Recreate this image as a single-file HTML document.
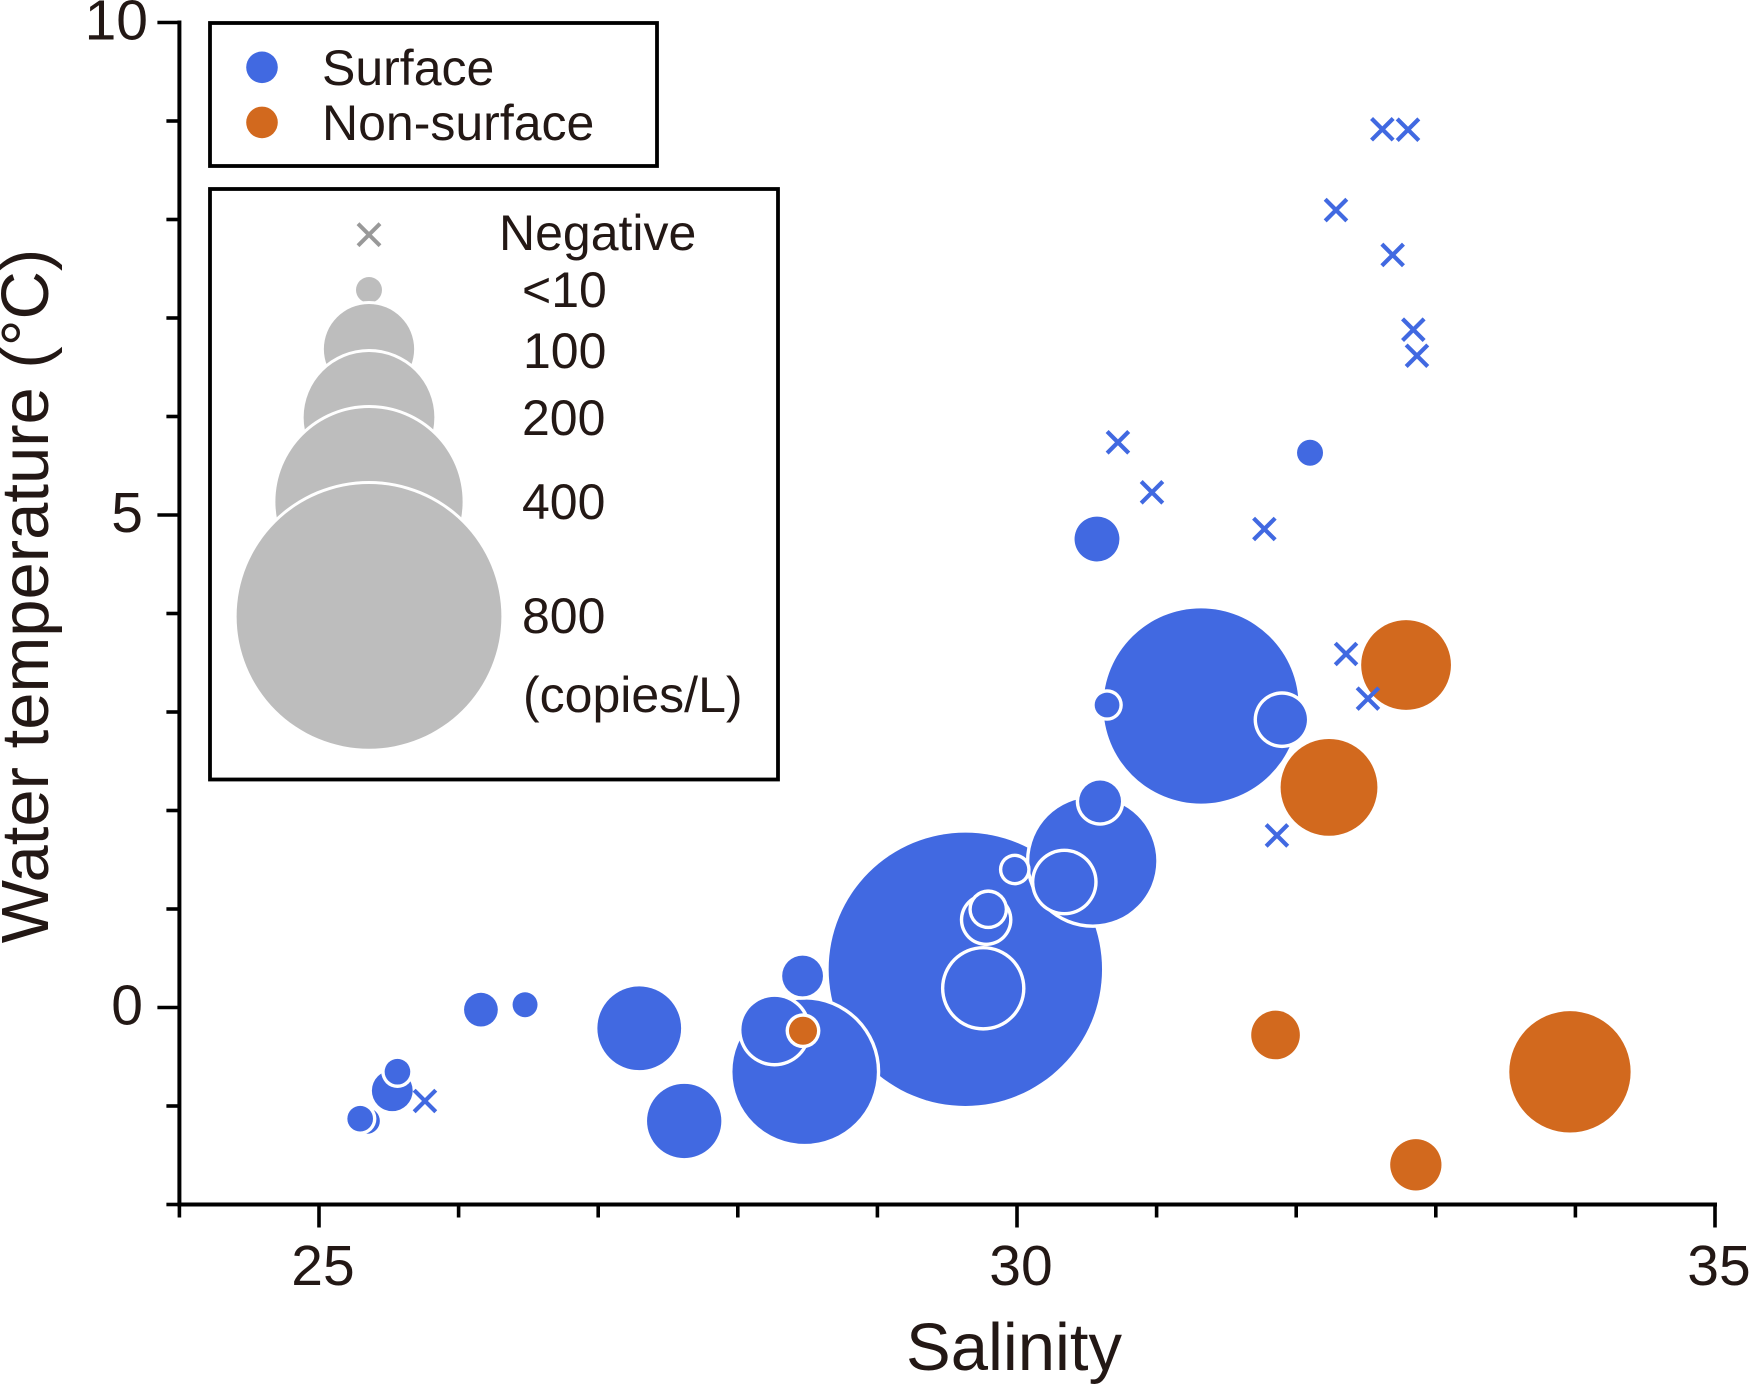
<!DOCTYPE html>
<html lang="en">
<head>
<meta charset="utf-8">
<title>Salinity vs water temperature</title>
<style>
html,body{margin:0;padding:0;background:#fff;}
svg{display:block;font-family:"Liberation Sans",Arial,sans-serif;fill:#231815;}
</style>
</head>
<body>
<svg id="chart" xmlns="http://www.w3.org/2000/svg" width="1750" height="1385" viewBox="0 0 1750 1385">
  <rect width="1750" height="1385" fill="#fff"/>
  <g id="marks"></g>
  <g id="axes"></g>
  <text x="1014" y="1370" font-size="67" text-anchor="middle">Salinity</text>
  <text transform="translate(48,596) rotate(-90)" font-size="67" text-anchor="middle">Water temperature (°C)</text>

  <g>
    <rect x="210" y="23" width="447" height="143" fill="#fff" stroke="#000" stroke-width="3.8"/>
    <circle cx="262" cy="67.3" r="15.8" fill="#4169E1"/>
    <circle cx="262" cy="122.4" r="15.8" fill="#D2691E"/>
    <text x="322" y="85" font-size="50">Surface</text>
    <text x="322" y="140" font-size="50">Non-surface</text>
  </g>

  <g id="size-legend">
    <rect x="210" y="189" width="568" height="590.5" fill="#fff" stroke="#000" stroke-width="3.8"/>
    <g stroke="#999" stroke-width="4" fill="none">
      <line x1="358" y1="223.7" x2="380" y2="245.7"/>
      <line x1="380" y1="223.7" x2="358" y2="245.7"/>
    </g>
    <g id="size-legend-bubbles"></g>
    <text x="499" y="250" font-size="50">Negative</text>
    <text x="522" y="307" font-size="50">&lt;10</text>
    <text x="523" y="368" font-size="50">100</text>
    <text x="522" y="435" font-size="50">200</text>
    <text x="522" y="519" font-size="50">400</text>
    <text x="522" y="633" font-size="50">800</text>
    <text x="523" y="712" font-size="50">(copies/L)</text>
  </g>
</svg>
<script>
var surfaceSalinity = [29.63,31.318,28.479,30.543,29.758,27.294,27.616,28.263,30.339,31.898,29.779,30.595,30.573,28.464,25.525,29.794,26.16,29.984,30.645,32.099,25.562,25.344,25.295,26.476];
var surfaceTemp = [0.388,3.061,-0.652,1.487,0.195,-0.211,-1.152,-0.228,1.274,2.922,0.891,2.092,4.756,0.32,-0.845,0.997,-0.022,1.401,3.071,5.632,-0.652,-1.152,-1.129,0.028];
var surfaceCopies = [853,435,238,184,69,80,63,50,41,28.5,24,20,23,19,19,12.4,13,7.1,7,7.7,7.5,7.5,7.5,7.1];

var deepSalinity = [33.961,32.235,32.787,32.857,31.852,28.467];
var deepTemp = [-0.653,2.235,3.477,-1.597,-0.279,-0.236];
var deepCopies = [168,107,92,30,27,9];

var negativeSalinity = [32.617,32.801,32.285,32.691,32.839,32.865,30.723,30.967,31.772,32.357,32.514,31.862,25.759];
var negativeTemp = [8.916,8.912,8.096,7.64,6.881,6.617,5.738,5.23,4.858,3.589,3.136,1.747,-0.949];

var xTicks = [24,25,26,27,28,29,30,31,32,33,34,35];
var xTickLabels = ['25','30','35'];
var yTicks = [-2,-1,0,1,2,3,4,5,6,7,8,9,10];
var yTickLabels = ['0','5','10'];
var legendCopies = [7.7,93,195,400,800];

var NS = 'http://www.w3.org/2000/svg';
function xPos(v){ return 319 + (v - 25) * 139.6; }
function yPos(v){ return 1007.5 - v * 98.5; }
function rad(c){ return 4.68 * Math.sqrt(c); }
function mk(tag, parent){ var e = document.createElementNS(NS, tag); parent.appendChild(e); return e; }

var marks = document.getElementById('marks');
var axes = document.getElementById('axes');

/* bubbles: large first so small ones sit on top */
var bubbles = [];
surfaceSalinity.forEach(function(s,i){ bubbles.push({x:s,y:surfaceTemp[i],c:surfaceCopies[i],col:'#4169E1',kind:'surface'}); });
deepSalinity.forEach(function(s,i){ bubbles.push({x:s,y:deepTemp[i],c:deepCopies[i],col:'#D2691E',kind:'non-surface'}); });
bubbles.sort(function(a,b){ return b.c - a.c; });
bubbles.forEach(function(b){
  var halo = mk('circle', marks);
  
  
  halo.setAttribute('cx', xPos(b.x));
  halo.setAttribute('cy', yPos(b.y));
  halo.setAttribute('r', rad(b.c) + 3.4);
  halo.setAttribute('fill', '#fff');
  var c = mk('circle', marks);
  
  
  c.setAttribute('cx', xPos(b.x));
  c.setAttribute('cy', yPos(b.y));
  c.setAttribute('r', rad(b.c));
  c.setAttribute('fill', b.col);
});

/* negative crosses */
negativeSalinity.forEach(function(s,i){
  var cx = xPos(s), cy = yPos(negativeTemp[i]), h = 10.8;
  var p = mk('path', marks);
  
  
  p.setAttribute('d', 'M'+(cx-h)+' '+(cy-h)+'L'+(cx+h)+' '+(cy+h)+'M'+(cx+h)+' '+(cy-h)+'L'+(cx-h)+' '+(cy+h));
  p.setAttribute('stroke', '#4169E1');
  p.setAttribute('stroke-width', '4.2');
  p.setAttribute('fill', 'none');
});

/* axes */
var xLine = mk('line', axes);


xLine.setAttribute('x1', xPos(24) - 2);
xLine.setAttribute('x2', xPos(35) + 2);
xLine.setAttribute('y1', yPos(-2));
xLine.setAttribute('y2', yPos(-2));
xLine.setAttribute('stroke', '#000');
xLine.setAttribute('stroke-width', '4');

var yLine = mk('line', axes);


yLine.setAttribute('x1', xPos(24));
yLine.setAttribute('x2', xPos(24));
yLine.setAttribute('y1', yPos(10) - 2);
yLine.setAttribute('y2', yPos(-2) + 2);
yLine.setAttribute('stroke', '#000');
yLine.setAttribute('stroke-width', '4');

xTicks.forEach(function(v){
  var major = xTickLabels.indexOf(String(v)) >= 0;
  var t = mk('line', axes);
  
  
  t.setAttribute('x1', xPos(v));
  t.setAttribute('x2', xPos(v));
  t.setAttribute('y1', yPos(-2));
  t.setAttribute('y2', yPos(-2) + (major ? 23 : 13));
  t.setAttribute('stroke', '#000');
  t.setAttribute('stroke-width', '3.6');
  if (major) {
    var l = mk('text', axes);
    
    
    l.setAttribute('x', xPos(v) + 4);
    l.setAttribute('y', 1285);
    l.setAttribute('font-size', '57');
    l.setAttribute('text-anchor', 'middle');
    l.textContent = String(v);
  }
});

yTicks.forEach(function(v){
  var major = yTickLabels.indexOf(String(v)) >= 0;
  var t = mk('line', axes);
  
  
  t.setAttribute('x1', xPos(24));
  t.setAttribute('x2', xPos(24) - (major ? 22 : 13));
  t.setAttribute('y1', yPos(v));
  t.setAttribute('y2', yPos(v));
  t.setAttribute('stroke', '#000');
  t.setAttribute('stroke-width', '3.6');
  if (major) {
    var l = mk('text', axes);
    
    
    l.setAttribute('x', v === 10 ? 148 : 143);
    l.setAttribute('y', yPos(v) + 17);
    l.setAttribute('font-size', '57');
    l.setAttribute('text-anchor', 'end');
    l.textContent = String(v);
  }
});

/* size legend bubbles: each sits a fixed amount down from the one above */
var legendGroup = document.getElementById('size-legend-bubbles');
var legendTop = [277, 304, 352, 408, 484];
legendCopies.forEach(function(c,i){
  var r = rad(c);
  var halo = mk('circle', legendGroup);
  
  
  halo.setAttribute('cx', 369);
  halo.setAttribute('cy', legendTop[i] + r);
  halo.setAttribute('r', r + 3);
  halo.setAttribute('fill', '#fff');
  var b = mk('circle', legendGroup);
  
  
  b.setAttribute('cx', 369);
  b.setAttribute('cy', legendTop[i] + r);
  b.setAttribute('r', r);
  b.setAttribute('fill', '#bdbdbd');
});
</script>
</body>
</html>
